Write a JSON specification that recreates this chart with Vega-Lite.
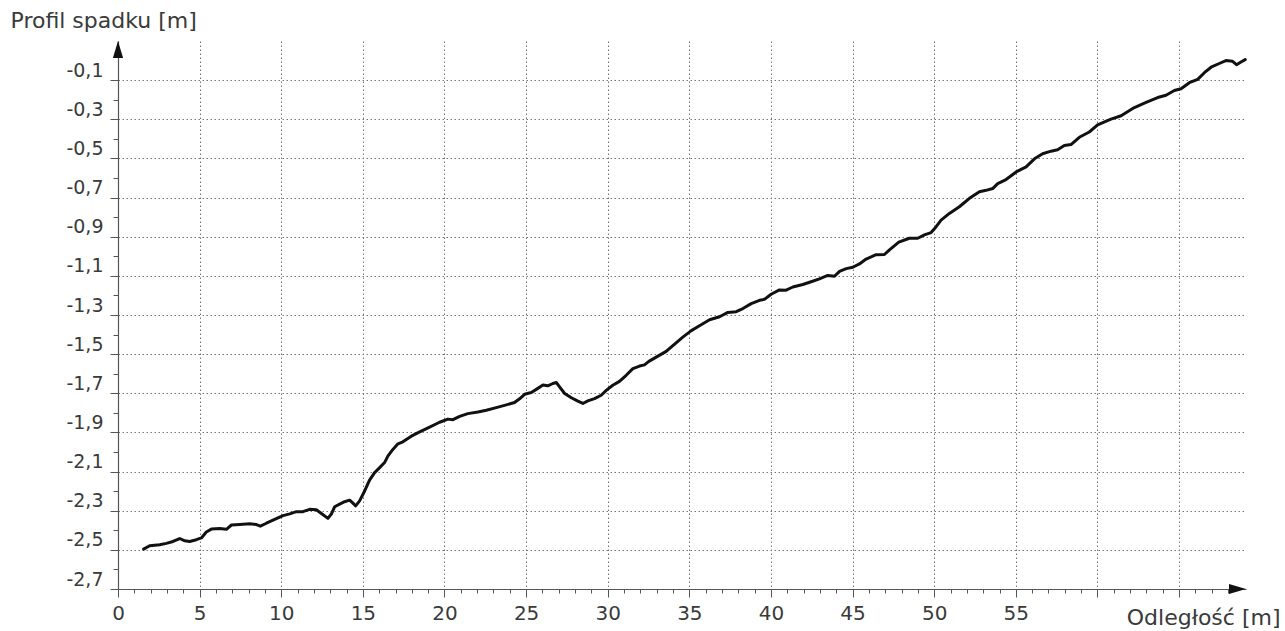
{
  "$schema": "https://vega.github.io/schema/vega-lite/v6.json",
  "width": 1128,
  "height": 548,
  "autosize": {"type": "none"},
  "padding": {"left": 118, "top": 41, "right": 39, "bottom": 42},
  "background": "white",
  "config": {
    "view": {"stroke": null},
    "font": "DejaVu Sans",
    "axis": {"labelFont": "DejaVu Sans", "titleFont": "DejaVu Sans", "titleFontWeight": "normal", "labelColor": "#3a3a3a", "titleColor": "#3a3a3a", "domainColor": "#555", "tickColor": "#555"}
  },
  "datasets": {
    "profile": [
      {"x": 1.57, "y": -2.496}, {"x": 1.94, "y": -2.479}, {"x": 2.55, "y": -2.474}, {"x": 2.96, "y": -2.467},
      {"x": 3.37, "y": -2.457}, {"x": 3.78, "y": -2.442}, {"x": 4.09, "y": -2.454}, {"x": 4.39, "y": -2.457},
      {"x": 4.80, "y": -2.448}, {"x": 5.11, "y": -2.439}, {"x": 5.41, "y": -2.409}, {"x": 5.72, "y": -2.394},
      {"x": 6.23, "y": -2.391}, {"x": 6.64, "y": -2.395}, {"x": 6.95, "y": -2.373}, {"x": 7.45, "y": -2.370},
      {"x": 8.07, "y": -2.367}, {"x": 8.48, "y": -2.371}, {"x": 8.72, "y": -2.379}, {"x": 9.09, "y": -2.364},
      {"x": 9.70, "y": -2.341}, {"x": 10.11, "y": -2.325}, {"x": 10.52, "y": -2.316}, {"x": 10.93, "y": -2.305},
      {"x": 11.33, "y": -2.305}, {"x": 11.74, "y": -2.293}, {"x": 12.15, "y": -2.295}, {"x": 12.46, "y": -2.314},
      {"x": 12.86, "y": -2.339}, {"x": 13.07, "y": -2.317}, {"x": 13.27, "y": -2.280}, {"x": 13.58, "y": -2.266},
      {"x": 13.88, "y": -2.254}, {"x": 14.19, "y": -2.246}, {"x": 14.36, "y": -2.259}, {"x": 14.56, "y": -2.275},
      {"x": 14.80, "y": -2.250}, {"x": 15.11, "y": -2.199}, {"x": 15.41, "y": -2.144}, {"x": 15.72, "y": -2.105},
      {"x": 16.03, "y": -2.080}, {"x": 16.33, "y": -2.054}, {"x": 16.54, "y": -2.020}, {"x": 16.84, "y": -1.987},
      {"x": 17.15, "y": -1.958}, {"x": 17.45, "y": -1.948}, {"x": 17.97, "y": -1.919}, {"x": 18.48, "y": -1.897},
      {"x": 19.09, "y": -1.873}, {"x": 19.70, "y": -1.848}, {"x": 20.21, "y": -1.832}, {"x": 20.52, "y": -1.835},
      {"x": 20.93, "y": -1.818}, {"x": 21.43, "y": -1.804}, {"x": 22.05, "y": -1.796}, {"x": 22.56, "y": -1.787},
      {"x": 23.17, "y": -1.773}, {"x": 23.79, "y": -1.759}, {"x": 24.29, "y": -1.747}, {"x": 24.60, "y": -1.728},
      {"x": 24.91, "y": -1.705}, {"x": 25.32, "y": -1.696}, {"x": 25.72, "y": -1.675}, {"x": 26.03, "y": -1.658},
      {"x": 26.33, "y": -1.662}, {"x": 26.64, "y": -1.650}, {"x": 26.85, "y": -1.645}, {"x": 27.05, "y": -1.667},
      {"x": 27.36, "y": -1.701}, {"x": 27.77, "y": -1.723}, {"x": 28.17, "y": -1.740}, {"x": 28.48, "y": -1.752},
      {"x": 28.78, "y": -1.739}, {"x": 29.19, "y": -1.727}, {"x": 29.60, "y": -1.710}, {"x": 29.91, "y": -1.685},
      {"x": 30.31, "y": -1.659}, {"x": 30.72, "y": -1.639}, {"x": 31.13, "y": -1.608}, {"x": 31.54, "y": -1.574},
      {"x": 31.95, "y": -1.561}, {"x": 32.25, "y": -1.555}, {"x": 32.52, "y": -1.537}, {"x": 33.58, "y": -1.486},
      {"x": 33.99, "y": -1.456}, {"x": 34.60, "y": -1.413}, {"x": 35.12, "y": -1.380}, {"x": 35.62, "y": -1.355},
      {"x": 36.24, "y": -1.324}, {"x": 36.85, "y": -1.309}, {"x": 37.36, "y": -1.287}, {"x": 37.87, "y": -1.283},
      {"x": 38.28, "y": -1.267}, {"x": 38.79, "y": -1.242}, {"x": 39.30, "y": -1.225}, {"x": 39.60, "y": -1.220},
      {"x": 40.01, "y": -1.194}, {"x": 40.52, "y": -1.172}, {"x": 40.93, "y": -1.173}, {"x": 41.34, "y": -1.157},
      {"x": 41.95, "y": -1.144}, {"x": 42.46, "y": -1.130}, {"x": 42.97, "y": -1.115}, {"x": 43.48, "y": -1.098},
      {"x": 43.89, "y": -1.102}, {"x": 44.20, "y": -1.077}, {"x": 44.61, "y": -1.063}, {"x": 45.01, "y": -1.056},
      {"x": 45.42, "y": -1.039}, {"x": 45.83, "y": -1.014}, {"x": 46.44, "y": -0.992}, {"x": 46.95, "y": -0.991},
      {"x": 47.26, "y": -0.967}, {"x": 47.83, "y": -0.928}, {"x": 48.48, "y": -0.908}, {"x": 48.99, "y": -0.908},
      {"x": 49.40, "y": -0.891}, {"x": 49.81, "y": -0.879}, {"x": 50.12, "y": -0.849}, {"x": 50.42, "y": -0.815},
      {"x": 50.93, "y": -0.781}, {"x": 51.54, "y": -0.747}, {"x": 52.16, "y": -0.704}, {"x": 52.77, "y": -0.670},
      {"x": 53.18, "y": -0.663}, {"x": 53.58, "y": -0.654}, {"x": 53.89, "y": -0.629}, {"x": 54.40, "y": -0.608},
      {"x": 55.02, "y": -0.569}, {"x": 55.63, "y": -0.543}, {"x": 56.14, "y": -0.502}, {"x": 56.64, "y": -0.476},
      {"x": 57.16, "y": -0.463}, {"x": 57.56, "y": -0.456}, {"x": 57.97, "y": -0.434}, {"x": 58.38, "y": -0.429},
      {"x": 58.89, "y": -0.392}, {"x": 59.50, "y": -0.365}, {"x": 60.01, "y": -0.329}, {"x": 60.83, "y": -0.299},
      {"x": 61.45, "y": -0.282}, {"x": 62.26, "y": -0.240}, {"x": 62.98, "y": -0.214}, {"x": 63.69, "y": -0.189},
      {"x": 64.20, "y": -0.177}, {"x": 64.71, "y": -0.153}, {"x": 65.12, "y": -0.144}, {"x": 65.63, "y": -0.113},
      {"x": 66.14, "y": -0.096}, {"x": 66.55, "y": -0.062}, {"x": 66.96, "y": -0.034}, {"x": 67.46, "y": -0.015},
      {"x": 67.87, "y": 0.000}, {"x": 68.28, "y": -0.004}, {"x": 68.52, "y": -0.021}, {"x": 68.79, "y": -0.007},
      {"x": 69.05, "y": 0.005}
    ],
    "arrows": [
      {"x": 69.1, "y": -2.7, "dir": "right"},
      {"x": 0, "y": 0.1, "dir": "up"}
    ]
  },
  "layer": [
    {
      "data": {"name": "profile"},
      "mark": {"type": "line", "color": "#111111", "strokeWidth": 3, "strokeJoin": "round", "strokeCap": "round"},
      "encoding": {
        "x": {
          "field": "x", "type": "quantitative",
          "scale": {"domain": [0, 69.1], "nice": false, "zero": false},
          "axis": {
            "orient": "bottom",
            "values": [0, 5, 10, 15, 20, 25, 30, 35, 40, 45, 50, 55, 60, 65],
            "grid": true, "gridColor": "#777", "gridDash": [1.5, 2.5], "gridWidth": 1,
            "domainWidth": 1.2, "tickSize": 8, "tickWidth": 1,
            "labelFontSize": 20, "labelPadding": 6, "labelFlush": false, "labelOverlap": false,
            "labelExpr": "datum.value > 57 ? '' : datum.label",
            "title": "Odległość [m]", "titleFontSize": 22,
            "titleX": 1162, "titleY": 35, "titleAlign": "right", "titleBaseline": "alphabetic", "titleAnchor": null
          }
        },
        "y": {
          "field": "y", "type": "quantitative",
          "scale": {"domain": [-2.7, 0.1], "nice": false, "zero": false},
          "axis": {
            "orient": "left",
            "values": [-0.1, -0.3, -0.5, -0.7, -0.9, -1.1, -1.3, -1.5, -1.7, -1.9, -2.1, -2.3, -2.5, -2.7],
            "grid": true, "gridColor": "#777", "gridDash": [1.5, 2.5], "gridWidth": 1,
            "domainWidth": 1.2, "tickSize": 8, "tickWidth": 1,
            "labelFontSize": 19, "labelPadding": 7, "labelOffset": -4, "labelBaseline": "alphabetic",
            "labelFlush": false, "labelOverlap": false,
            "labelExpr": "replace(toString(datum.value), '.', ',')",
            "title": "Profil spadku [m]", "titleFontSize": 22, "titleAngle": 0,
            "titleX": -108, "titleY": -14, "titleAlign": "left", "titleBaseline": "alphabetic", "titleAnchor": null
          }
        }
      }
    },
    {
      "data": {"name": "arrows"},
      "mark": {"type": "point", "filled": true, "opacity": 1, "size": 1156, "strokeWidth": 0},
      "encoding": {
        "x": {
          "field": "x", "type": "quantitative",
          "scale": {"domain": [0, 69.1], "nice": false, "zero": false},
          "axis": {
            "orient": "bottom",
            "values": [0,1,2,3,4,5,6,7,8,9,10,11,12,13,14,15,16,17,18,19,20,21,22,23,24,25,26,27,28,29,30,31,32,33,34,35,36,37,38,39,40,41,42,43,44,45,46,47,48,49,50,51,52,53,54,55,56,57,58,59,60,61,62,63,64,65,66,67,68],
            "grid": false, "domain": false, "labels": false, "tickSize": 4, "tickWidth": 1, "title": null
          }
        },
        "y": {
          "field": "y", "type": "quantitative",
          "scale": {"domain": [-2.7, 0.1], "nice": false, "zero": false},
          "axis": {
            "orient": "left",
            "values": [-0.2, -0.4, -0.6, -0.8, -1.0, -1.2, -1.4, -1.6, -1.8, -2.0, -2.2, -2.4, -2.6],
            "grid": false, "domain": false, "labels": false, "tickSize": 5, "tickWidth": 1, "title": null
          }
        },
        "shape": {
          "field": "dir", "type": "nominal",
          "scale": {"domain": ["right", "up"], "range": ["M0,0L-1,-0.3L-1,0.3Z", "M0,0L-0.3,1L0.3,1Z"]},
          "legend": null
        },
        "color": {"value": "#111111"}
      }
    }
  ],
  "resolve": {"axis": {"x": "independent", "y": "independent"}}
}
